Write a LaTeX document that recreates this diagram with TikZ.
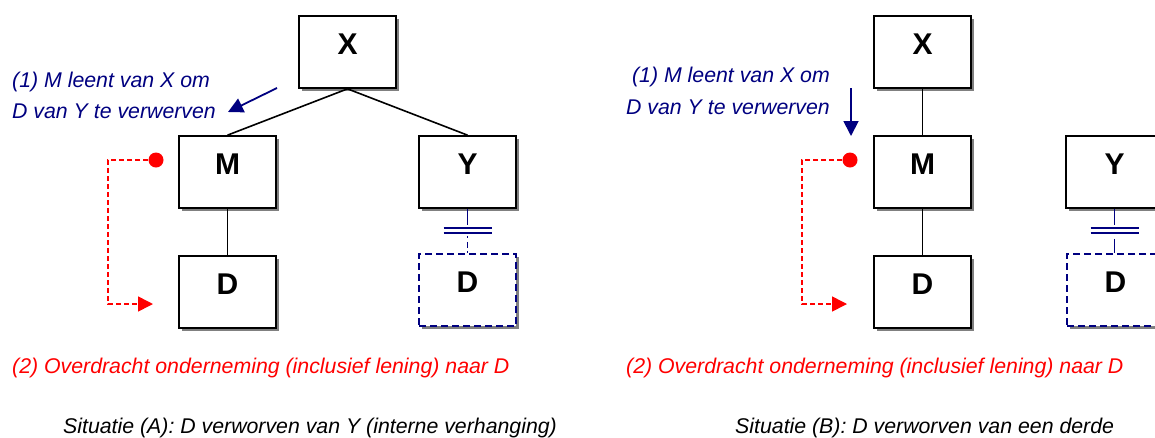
\documentclass[tikz,border=0pt]{standalone}
\usepackage{fontspec}
\setmainfont{Liberation Sans}
\usetikzlibrary{shadows,arrows.meta,calc}
\definecolor{navy}{RGB}{0,0,128}
\definecolor{redc}{RGB}{255,0,0}
\begin{document}
\begin{tikzpicture}[x=1pt,y=-1pt,
  box/.style={draw=black, line width=1.7pt, fill=white, minimum width=97pt, minimum height=72pt, inner sep=0pt,
    drop shadow={shadow xshift=3pt, shadow yshift=-3pt, fill=black!50, opacity=1}},
  dbox/.style={draw=navy, line width=1.7pt, dash pattern=on 7pt off 4pt, fill=white, minimum width=97pt, minimum height=72pt, inner sep=0pt,
    drop shadow={shadow xshift=3pt, shadow yshift=-3pt, fill=black!50, opacity=1}},
  lbl/.style={font=\fontsize{30}{30}\selectfont\bfseries, yshift=8pt},
  link/.style={draw=black, line width=1.6pt},
  blink/.style={draw=navy, line width=1.6pt},
  bar/.style={draw=navy, line width=2pt},
  barnote/.style={font=\fontsize{21.3}{21.3}\selectfont\itshape, text=navy, inner sep=0pt},
  rednote/.style={font=\fontsize{21.3}{21.3}\selectfont\itshape, text=redc, inner sep=0pt},
  caption/.style={font=\fontsize{21.3}{21.3}\selectfont\itshape, text=black, inner sep=0pt},
  bluearrow/.style={draw=navy, line width=1.8pt, -{Triangle[length=15pt,width=15pt]}},
  redarrow/.style={draw=redc, line width=1.6pt, dash pattern=on 5pt off 3pt, -{Triangle[length=15pt,width=15pt]}},
  reddot/.style={circle, fill=redc, minimum size=15pt, inner sep=0pt},
]
\useasboundingbox (0,0) rectangle (1155,437);

% ---------- Situatie A ----------
\node[box, label={[lbl]center:X}] (XA) at (347.5,52) {};
\node[box, label={[lbl]center:M}] (MA) at (227.5,172) {};
\node[box, label={[lbl]center:Y}] (YA) at (467.5,172) {};
\node[box, label={[lbl]center:D}] (DA) at (227.5,292) {};
\node[dbox, label={[lbl]center:D}] (DDA) at (467.5,290) {};

\draw[link] (XA.south) -- (MA.north);
\draw[link] (XA.south) -- (YA.north);
\draw[link] (MA.south) -- (DA.north);

\coordinate (A1) at ($(YA.south)+(0,16)$);
\coordinate (A2) at ($(YA.south)+(0,27)$);
\draw[blink] (YA.south) -- (A1);
\draw[bar] ($(YA.south)+(-24,19)$) -- ($(YA.south)+(24,19)$);
\draw[bar] ($(YA.south)+(-24,24)$) -- ($(YA.south)+(24,24)$);
\draw[blink, dash pattern=on 2pt off 4pt on 6pt off 3pt] (A2) -- (DDA.north);

\node[barnote, anchor=base west] (tA1) at (12,87) {(1) M leent van X om};
\node[barnote, anchor=base west] (tA2) at (12,118) {D van Y te verwerven};
\coordinate (aA0) at (277,88);
\coordinate (aA1) at (228,112);
\draw[bluearrow] (aA0) -- (aA1);

\node[reddot] (rA) at (156,160) {};
\coordinate (rA1) at (153,304);
\draw[redarrow] (rA.center) -- (108,160) -- (108,304) -- (rA1);

\node[rednote, anchor=base west] (nA) at (12,373) {(2) Overdracht onderneming (inclusief lening) naar D};
\node[caption, anchor=base west] (cA) at (63,433) {Situatie (A): D verworven van Y (interne verhanging)};

% ---------- Situatie B ----------
\node[box, label={[lbl]center:X}] (XB) at (922.5,52) {};
\node[box, label={[lbl]center:M}] (MB) at (922.5,172) {};
\node[box, label={[lbl]center:D}] (DB) at (922.5,292) {};
\node[box, label={[lbl]center:Y}] (YB) at (1114.5,172) {};
\node[dbox, label={[lbl]center:D}] (DDB) at (1115.5,290) {};

\draw[link] (XB.south) -- (MB.north);
\draw[link] (MB.south) -- (DB.north);

\coordinate (B1) at ($(YB.south)+(0,16)$);
\coordinate (B2) at ($(YB.south)+(0,30)$);
\draw[blink] (YB.south) -- (B1);
\draw[bar] ($(YB.south)+(-24,19)$) -- ($(YB.south)+(24,19)$);
\draw[bar] ($(YB.south)+(-24,24)$) -- ($(YB.south)+(24,24)$);
\draw[blink] (B2) -- (B2 |- DDB.north);

\node[barnote, anchor=base east] (tB1) at (830,82) {(1) M leent van X om};
\node[barnote, anchor=base east] (tB2) at (830,114) {D van Y te verwerven};
\coordinate (aB0) at (851,88);
\coordinate (aB1) at (851,136);
\draw[bluearrow] (aB0) -- (aB1);

\node[reddot] (rB) at (850,160) {};
\coordinate (rB1) at (847,304);
\draw[redarrow] (rB.center) -- (802,160) -- (802,304) -- (rB1);

\node[rednote, anchor=base west] (nB) at (626,373) {(2) Overdracht onderneming (inclusief lening) naar D};
\node[caption, anchor=base west] (cB) at (735,433) {Situatie (B): D verworven van een derde};
\end{tikzpicture}
\end{document}
